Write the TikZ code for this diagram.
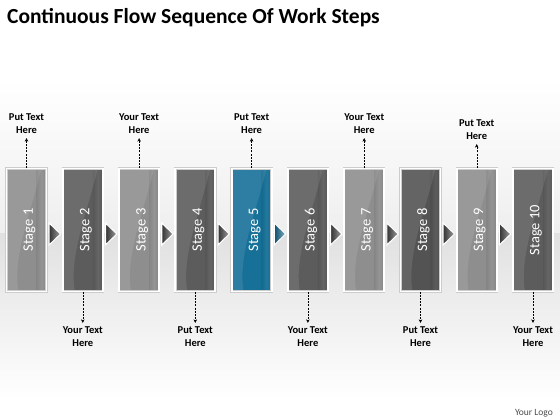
\documentclass[tikz,border=0pt]{standalone}
\usepackage{fontspec}
\setmainfont{Carlito}
\usetikzlibrary{arrows.meta,shadows}

\definecolor{lightbox}{RGB}{142,142,142}
\definecolor{darkbox}{RGB}{92,92,92}
\definecolor{bluebox}{RGB}{22,112,152}

\begin{document}
\begin{tikzpicture}[x=1pt,y=-1pt]
		\tikzstyle{title}=[font=\fontsize{21.5}{24}\selectfont\bfseries,inner sep=0pt]
		\tikzstyle{stagebox}=[rectangle,minimum width=40pt,minimum height=123pt,draw=gray!40,double=white,double distance=1.8pt,line width=.3pt,
			drop shadow={shadow xshift=.8pt,shadow yshift=-.8pt,opacity=.25},
			path picture={\fill[white,opacity=.1] (path picture bounding box.north west) -- ([xshift=-5pt]path picture bounding box.north east) .. controls ([xshift=-16pt,yshift=-45pt]path picture bounding box.north east) and ([xshift=6pt,yshift=35pt]path picture bounding box.south west) .. ([xshift=12pt]path picture bounding box.south west) -- (path picture bounding box.south west) -- cycle;
				\shade[left color=black,right color=black,middle color=white,opacity=.06] ([xshift=-10pt]path picture bounding box.north east) rectangle (path picture bounding box.south east);}]
		\tikzstyle{stagetext}=[rotate=90,text=white,font=\fontsize{14.5}{17}\selectfont,inner sep=0pt,yshift=-3pt]
		\tikzstyle{chevron}=[draw=white,line width=1.1pt,left color=gray!40!black,right color=gray!75]
		\tikzstyle{note}=[align=center,font=\fontsize{10.5}{13}\selectfont\bfseries,inner sep=4pt]
		\tikzstyle{pointer}=[thin,dashed,dash pattern=on 2pt off 1.2pt,-{Stealth[length=3.5pt,width=3.5pt]}]
		\tikzstyle{logo}=[font=\fontsize{9.5}{11}\selectfont,text=gray!60!black,inner sep=0pt]
		
		% background
		\fill[white] (0,0) rectangle (560,80);
		\fill[top color=white,bottom color=gray!13] (0,80) rectangle (560,233);
		\fill[top color=gray!24,bottom color=gray!15] (0,233) rectangle (560,295);
		\fill[top color=gray!15,bottom color=white] (0,295) rectangle (560,400);
		\fill[white] (0,400) rectangle (560,420);
		
		\node[title,anchor=base west] (title) at (7,24) {Continuous Flow Sequence Of Work Steps};
		
		% stages
		\node[stagebox,fill=lightbox,label={[stagetext]center:Stage 1}] (s1) at (26.5,230) {};
		\node[stagebox,fill=darkbox,label={[stagetext]center:Stage 2}] (s2) at (82.8,230) {};
		\node[stagebox,fill=lightbox,label={[stagetext]center:Stage 3}] (s3) at (139.1,230) {};
		\node[stagebox,fill=darkbox,label={[stagetext]center:Stage 4}] (s4) at (195.3,230) {};
		\node[stagebox,fill=bluebox,label={[stagetext]center:Stage 5}] (s5) at (251.6,230) {};
		\node[stagebox,fill=darkbox,label={[stagetext]center:Stage 6}] (s6) at (307.9,230) {};
		\node[stagebox,fill=lightbox,label={[stagetext]center:Stage 7}] (s7) at (364.2,230) {};
		\node[stagebox,fill=darkbox!90!black,label={[stagetext]center:Stage 8}] (s8) at (420.5,230) {};
		\node[stagebox,fill=lightbox,label={[stagetext]center:Stage 9}] (s9) at (476.7,230) {};
		\node[stagebox,fill=darkbox,label={[stagetext]center:Stage 10}] (s10) at (533,230) {};
		
		% chevrons between stages
		\filldraw[chevron] ([xshift=2.5pt,yshift=7pt]s1.east) -- ([xshift=14pt,yshift=-4pt]s1.east) -- ([xshift=2.5pt,yshift=-15pt]s1.east) -- cycle;
		\filldraw[chevron] ([xshift=2.5pt,yshift=7pt]s2.east) -- ([xshift=14pt,yshift=-4pt]s2.east) -- ([xshift=2.5pt,yshift=-15pt]s2.east) -- cycle;
		\filldraw[chevron] ([xshift=2.5pt,yshift=7pt]s3.east) -- ([xshift=14pt,yshift=-4pt]s3.east) -- ([xshift=2.5pt,yshift=-15pt]s3.east) -- cycle;
		\filldraw[chevron] ([xshift=2.5pt,yshift=7pt]s4.east) -- ([xshift=14pt,yshift=-4pt]s4.east) -- ([xshift=2.5pt,yshift=-15pt]s4.east) -- cycle;
		\filldraw[chevron,left color=bluebox!70!black,right color=bluebox!55!white] ([xshift=2.5pt,yshift=7pt]s5.east) -- ([xshift=14pt,yshift=-4pt]s5.east) -- ([xshift=2.5pt,yshift=-15pt]s5.east) -- cycle;
		\filldraw[chevron] ([xshift=2.5pt,yshift=7pt]s6.east) -- ([xshift=14pt,yshift=-4pt]s6.east) -- ([xshift=2.5pt,yshift=-15pt]s6.east) -- cycle;
		\filldraw[chevron] ([xshift=2.5pt,yshift=7pt]s7.east) -- ([xshift=14pt,yshift=-4pt]s7.east) -- ([xshift=2.5pt,yshift=-15pt]s7.east) -- cycle;
		\filldraw[chevron] ([xshift=2.5pt,yshift=7pt]s8.east) -- ([xshift=14pt,yshift=-4pt]s8.east) -- ([xshift=2.5pt,yshift=-15pt]s8.east) -- cycle;
		\filldraw[chevron] ([xshift=2.5pt,yshift=7pt]s9.east) -- ([xshift=14pt,yshift=-4pt]s9.east) -- ([xshift=2.5pt,yshift=-15pt]s9.east) -- cycle;
		
		% notes
		\node[note] (n1) at (26.5,124) {Put Text\\Here};
		\node[note] (n2) at (82.8,337) {Your Text\\Here};
		\node[note] (n3) at (139.1,124) {Your Text\\Here};
		\node[note] (n4) at (195.3,337) {Put Text\\Here};
		\node[note] (n5) at (251.6,124) {Put Text\\Here};
		\node[note] (n6) at (307.9,337) {Your Text\\Here};
		\node[note] (n7) at (364.2,124) {Your Text\\Here};
		\node[note] (n8) at (420.5,337) {Put Text\\Here};
		\node[note] (n9) at (476.7,130) {Put Text\\Here};
		\node[note] (n10) at (533,337) {Your Text\\Here};
		
		\draw[pointer] (s1) -- (n1);
		\draw[pointer] (s2) -- (n2);
		\draw[pointer] (s3) -- (n3);
		\draw[pointer] (s4) -- (n4);
		\draw[pointer] (s5) -- (n5);
		\draw[pointer] (s6) -- (n6);
		\draw[pointer] (s7) -- (n7);
		\draw[pointer] (s8) -- (n8);
		\draw[pointer] (s9) -- (n9);
		\draw[pointer] (s10) -- (n10);
		
		\node[logo,anchor=base east] (logo) at (553,415) {Your Logo};
		
		\useasboundingbox (0,0) rectangle (560,420);
		\end{tikzpicture}
\end{document}
